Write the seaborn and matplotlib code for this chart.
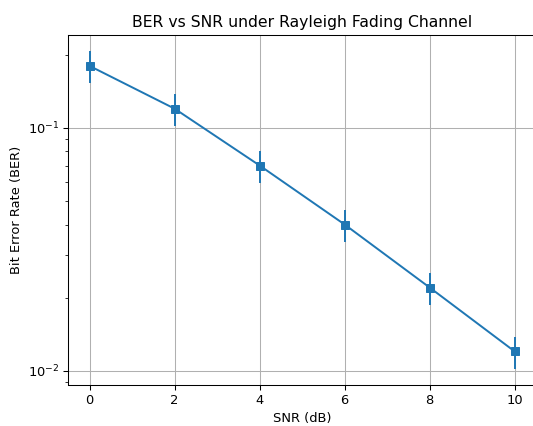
import matplotlib
matplotlib.use("Agg")
import matplotlib.pyplot as plt
import seaborn as sns
import pandas as pd

snr_db = [0, 2, 4, 6, 8, 10]
ber = [0.18, 0.12, 0.07, 0.04, 0.022, 0.012]
ber_err = [0.027, 0.018, 0.0105, 0.006, 0.0033, 0.0018]

df = pd.DataFrame({"SNR": snr_db, "BER": ber})

DPI = 94
fig, ax = plt.subplots(figsize=(533 / DPI, 426 / DPI), dpi=DPI)
ax.errorbar(snr_db, ber, yerr=ber_err, fmt="none", ecolor="#1f77b4", elinewidth=1.5, zorder=2)
sns.lineplot(data=df, x="SNR", y="BER", marker="s", markersize=6, color="#1f77b4",
             markeredgecolor="#1f77b4", linewidth=1.5, ax=ax, zorder=3)
ax.set_yscale("log")
ax.set_title("BER vs SNR under Rayleigh Fading Channel")
ax.set_xlabel("SNR (dB)")
ax.set_ylabel("Bit Error Rate (BER)")
ax.grid(True, which="major", color="#b0b0b0", linewidth=0.8)
ax.set_axisbelow(True)
fig.subplots_adjust(left=68.3 / 533, right=536 / 533, top=1 - 35.3 / 426, bottom=1 - 384.5 / 426)
fig.savefig("out.png", dpi=DPI)
